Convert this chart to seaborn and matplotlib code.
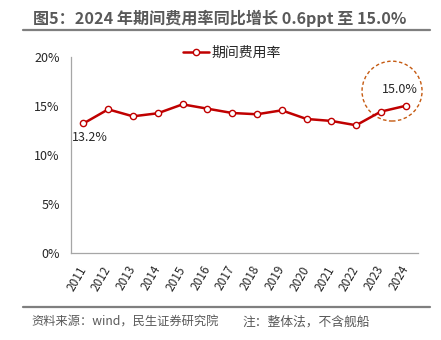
import matplotlib
matplotlib.use("Agg")
import matplotlib.pyplot as plt
from matplotlib.patches import Ellipse
from matplotlib.lines import Line2D
import seaborn as sns
import pandas as pd

years = ["2011", "2012", "2013", "2014", "2015", "2016", "2017",
         "2018", "2019", "2020", "2021", "2022", "2023", "2024"]
rate = [0.132, 0.1464, 0.1393, 0.1424, 0.1515, 0.1471, 0.1427,
        0.1414, 0.1454, 0.1366, 0.1346, 0.1302, 0.1441, 0.150]
series_name = "期间费用率"
title = "图5：2024 年期间费用率同比增长 0.6ppt 至 15.0%"
source = "资料来源：wind，民生证券研究院"
note = "注：整体法，不含舰船"
yticks = [0, 0.05, 0.10, 0.15, 0.20]
ytick_labels = ["0%", "5%", "10%", "15%", "20%"]

sns.set_theme(style="white")
plt.rcParams["font.family"] = ["Noto Sans CJK SC", "DejaVu Sans"]

RED = "#C00000"
GRAY = "#595959"
TXT = "#262626"

df = pd.DataFrame({"year": years, "rate": rate})
fig = plt.figure(figsize=(4.41, 3.40), dpi=100)
ax = fig.add_axes([0.161, 0.256, 0.787, 0.577])

x = list(range(len(years)))
sns.lineplot(x=x, y=df["rate"], ax=ax, color=RED, linewidth=1.8,
             marker="o", markersize=4.5, markerfacecolor="white",
             markeredgecolor=RED, markeredgewidth=1.0, label=series_name)

ax.set_xlim(-0.5, len(years) - 0.5)
ax.set_ylim(0, 0.20)
ax.set_yticks(yticks)
ax.set_yticklabels(ytick_labels, fontsize=9, color=TXT)
ax.set_xticks(x)
ax.set_xticklabels(years, rotation=60, fontsize=8.5, color=TXT,
                   ha="right", va="center", rotation_mode="anchor")
ax.tick_params(axis="both", length=0)
ax.tick_params(axis="y", pad=8)
ax.tick_params(axis="x", pad=10)
ax.set_xlabel("")
ax.set_ylabel("")
for s in ["top", "right"]:
    ax.spines[s].set_visible(False)
for s in ["left", "bottom"]:
    ax.spines[s].set_color("#A6A6A6")
    ax.spines[s].set_linewidth(0.9)

# data labels
ax.annotate(f"{rate[0]*100:.1f}%", (x[0], rate[0]), xytext=(4.5, -10),
            textcoords="offset points", ha="center", va="center",
            fontsize=9, color=TXT)
ax.annotate(f"{rate[-1]*100:.1f}%", (x[-1], rate[-1]), xytext=(-4.3, 12),
            textcoords="offset points", ha="center", va="center",
            fontsize=9, color=TXT)

# highlight circle
ax.add_patch(Ellipse((x[-1] - 0.55, 0.165), width=2.42, height=0.061,
                     fill=False, edgecolor="#C55A11", linestyle=(0, (2.5, 1.8)),
                     linewidth=1.0, clip_on=False))

leg = ax.legend(loc="center", bbox_to_anchor=(0.526, 0.845),
                bbox_transform=fig.transFigure, frameon=False,
                fontsize=10, handlelength=1.9, handletextpad=0.2,
                borderpad=0, borderaxespad=0)
for t in leg.get_texts():
    t.set_color(TXT)

# title and rules
fig.text(0.075, 0.945, title, fontsize=11.6, fontweight="bold", color=GRAY,
         ha="left", va="center")
fig.add_artist(Line2D([0.052, 0.975], [0.913, 0.913], color="#7F7F7F",
                      linewidth=1.6, transform=fig.transFigure))
fig.add_artist(Line2D([0.052, 0.975], [0.097, 0.097], color="#7F7F7F",
                      linewidth=1.6, transform=fig.transFigure))
fig.text(0.072, 0.053, source, fontsize=8.8, color=GRAY, ha="left", va="center")
fig.text(0.549, 0.053, note, fontsize=9.2, color=GRAY, ha="left", va="center")

fig.savefig("out.png", dpi=100)
